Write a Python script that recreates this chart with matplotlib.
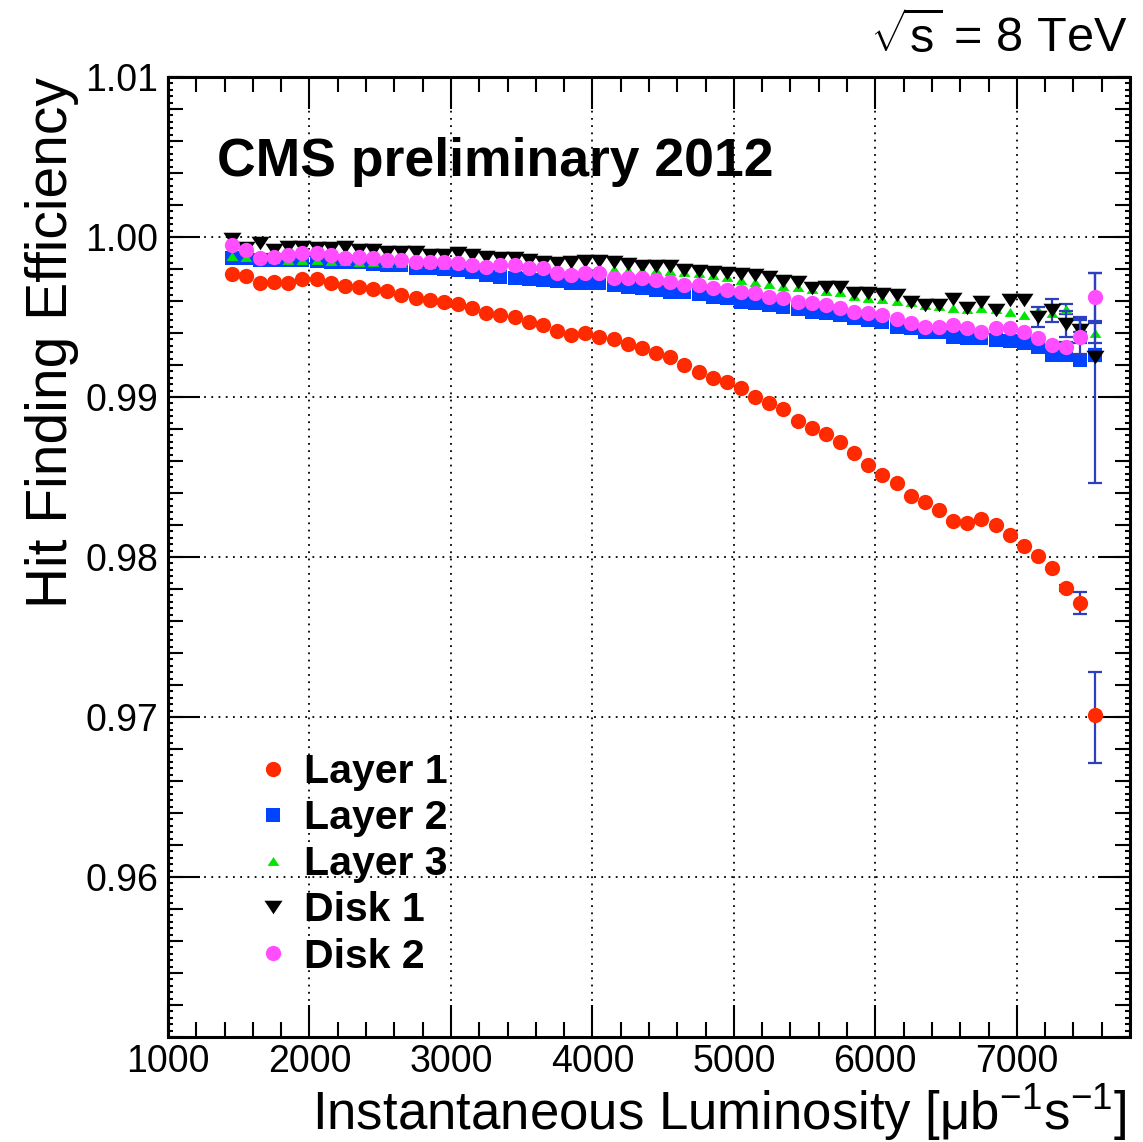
import matplotlib
matplotlib.use("Agg")
import matplotlib.pyplot as plt
from matplotlib.ticker import MultipleLocator, FixedLocator
from matplotlib.lines import Line2D

plt.rcParams['font.family'] = ['Liberation Sans', 'DejaVu Sans']
plt.rcParams['mathtext.fontset'] = 'custom'
plt.rcParams['mathtext.rm'] = 'Liberation Sans'
plt.rcParams['mathtext.it'] = 'Liberation Sans'
plt.rcParams['mathtext.bf'] = 'Liberation Sans:bold'

# instantaneous luminosity bins [ub^-1 s^-1]
lumi = [1450, 1550, 1650, 1750, 1850, 1950, 2050, 2150, 2250, 2350,
        2450, 2550, 2650, 2750, 2850, 2950, 3050, 3150, 3250, 3350,
        3450, 3550, 3650, 3750, 3850, 3950, 4050, 4150, 4250, 4350,
        4450, 4550, 4650, 4750, 4850, 4950, 5050, 5150, 5250, 5350,
        5450, 5550, 5650, 5750, 5850, 5950, 6050, 6150, 6250, 6350,
        6450, 6550, 6650, 6750, 6850, 6950, 7050, 7150, 7250, 7350,
        7450, 7550]

# hit finding efficiency per layer / disk
layer1 = [0.99769, 0.99756, 0.99713, 0.99719, 0.99713, 0.99738, 0.99738, 0.99713, 0.99694, 0.99688,
          0.99675, 0.99663, 0.99638, 0.99619, 0.99606, 0.99594, 0.99581, 0.99556, 0.99525, 0.99513,
          0.99500, 0.99469, 0.99450, 0.99413, 0.99388, 0.99400, 0.99375, 0.99363, 0.99331, 0.99306,
          0.99275, 0.99250, 0.99200, 0.99156, 0.99119, 0.99094, 0.99056, 0.99000, 0.98963, 0.98925,
          0.98850, 0.98806, 0.98769, 0.98719, 0.98650, 0.98575, 0.98513, 0.98463, 0.98381, 0.98344,
          0.98294, 0.98225, 0.98213, 0.98238, 0.98200, 0.98138, 0.98069, 0.98006, 0.97931, 0.97806,
          0.97713, 0.97013]
layer2 = [0.99871, 0.99871, 0.99856, 0.99856, 0.99856, 0.99856, 0.99852, 0.99846, 0.99842, 0.99842,
          0.99829, 0.99825, 0.99825, 0.99808, 0.99804, 0.99800, 0.99794, 0.99783, 0.99763, 0.99752,
          0.99742, 0.99738, 0.99731, 0.99725, 0.99711, 0.99711, 0.99711, 0.99700, 0.99689, 0.99679,
          0.99669, 0.99658, 0.99654, 0.99642, 0.99627, 0.99617, 0.99592, 0.99586, 0.99575, 0.99564,
          0.99550, 0.99529, 0.99523, 0.99513, 0.99492, 0.99481, 0.99471, 0.99439, 0.99429, 0.99408,
          0.99408, 0.99377, 0.99367, 0.99367, 0.99356, 0.99350, 0.99336, 0.99314, 0.99263, 0.99263,
          0.99231, 0.99263]
layer3 = [0.99881, 0.99875, 0.99863, 0.99863, 0.99856, 0.99856, 0.99856, 0.99850, 0.99850, 0.99847,
          0.99844, 0.99841, 0.99838, 0.99834, 0.99831, 0.99828, 0.99825, 0.99822, 0.99819, 0.99816,
          0.99813, 0.99809, 0.99806, 0.99806, 0.99803, 0.99803, 0.99800, 0.99800, 0.99797, 0.99794,
          0.99794, 0.99788, 0.99781, 0.99775, 0.99763, 0.99750, 0.99731, 0.99719, 0.99706, 0.99694,
          0.99688, 0.99675, 0.99663, 0.99656, 0.99631, 0.99619, 0.99613, 0.99600, 0.99594, 0.99575,
          0.99569, 0.99556, 0.99550, 0.99556, 0.99550, 0.99531, 0.99513, 0.99544, 0.99525, 0.99550,
          0.99444, 0.99400]
disk1 = [0.99986, 0.99929, 0.99961, 0.99919, 0.99939, 0.99939, 0.99929, 0.99929, 0.99939, 0.99919,
         0.99919, 0.99908, 0.99908, 0.99908, 0.99888, 0.99888, 0.99898, 0.99891, 0.99877, 0.99867,
         0.99867, 0.99856, 0.99846, 0.99841, 0.99844, 0.99850, 0.99850, 0.99844, 0.99831, 0.99819,
         0.99822, 0.99819, 0.99797, 0.99791, 0.99781, 0.99775, 0.99769, 0.99766, 0.99753, 0.99725,
         0.99722, 0.99681, 0.99688, 0.99688, 0.99650, 0.99650, 0.99644, 0.99638, 0.99594, 0.99573,
         0.99573, 0.99614, 0.99556, 0.99594, 0.99542, 0.99604, 0.99604, 0.99500, 0.99542, 0.99458,
         0.99419, 0.99250]
disk2 = [0.99950, 0.99919, 0.99869, 0.99875, 0.99888, 0.99900, 0.99900, 0.99888, 0.99869, 0.99875,
         0.99869, 0.99856, 0.99856, 0.99844, 0.99844, 0.99844, 0.99838, 0.99825, 0.99813, 0.99825,
         0.99825, 0.99806, 0.99806, 0.99778, 0.99763, 0.99775, 0.99775, 0.99744, 0.99744, 0.99744,
         0.99731, 0.99719, 0.99700, 0.99700, 0.99681, 0.99669, 0.99656, 0.99650, 0.99625, 0.99619,
         0.99594, 0.99588, 0.99575, 0.99556, 0.99531, 0.99525, 0.99513, 0.99491, 0.99461, 0.99439,
         0.99439, 0.99450, 0.99429, 0.99408, 0.99429, 0.99429, 0.99408, 0.99367, 0.99325, 0.99314,
         0.99377, 0.99627]

# asymmetric errors on the last bins (low stats), [down, up]
layer1_err = [[0.00017, 0.00066, 0.00300], [0.00017, 0.00066, 0.00270]]
layer2_err = [[0.00020, 0.00030, 0.00040], [0.00020, 0.00030, 0.00040]]
layer3_err = [[0.00030, 0.00040, 0.00060], [0.00030, 0.00040, 0.00060]]
disk1_err = [[0.00060, 0.00070, 0.00080, 0.00080, 0.00790], [0.00060, 0.00070, 0.00080, 0.00080, 0.00525]]
disk2_err = [[0.00030, 0.00110, 0.00150], [0.00030, 0.00110, 0.00150]]

labels = ['Layer 1', 'Layer 2', 'Layer 3', 'Disk 1', 'Disk 2']
colors = ['#ff2a00', '#0044ff', '#00e600', '#000000', '#ff4dff']

tri_up = [(0, 0.75), (-1, -0.75), (1, -0.75)]
tri_down = [(0, -0.75), (-1, 0.75), (1, 0.75)]
markers = ['o', 's', tri_up, tri_down, 'o']
msizes = [11, 9.5, 8.5, 13, 11]

series = [layer1, layer2, layer3, disk1, disk2]
errors = [layer1_err, layer2_err, layer3_err, disk1_err, disk2_err]
err_color = '#2b3fc0'

fig = plt.figure(figsize=(11.43, 11.42), dpi=100)
ax = fig.add_axes([0.147, 0.0919, 0.8416, 0.8406])

for vals, err, col, mk, ms in zip(series, errors, colors, markers, msizes):
    n = len(err[0])
    ax.errorbar(lumi[-n:], vals[-n:], yerr=err, fmt='none', ecolor=err_color,
                elinewidth=1.6, capsize=5, capthick=1.6)
    ax.plot(lumi, vals, linestyle='none', marker=mk, markersize=ms,
            color=col, markeredgewidth=0)

ax.set_xlim(1000, 7800)
ax.set_ylim(0.95, 1.01)

# ticks, ROOT-like
ax.xaxis.set_major_locator(MultipleLocator(1000))
ax.xaxis.set_minor_locator(MultipleLocator(200))
ax.yaxis.set_major_locator(FixedLocator([0.96, 0.97, 0.98, 0.99, 1.00, 1.01]))
ax.yaxis.set_minor_locator(MultipleLocator(0.0004))
ax.yaxis.set_major_formatter(matplotlib.ticker.FormatStrFormatter('%.2f'))
ax.tick_params(which='both', direction='in', top=True, right=True, width=1.5)
ax.tick_params(which='major', length=23, labelsize=27, pad=7)
ax.tick_params(axis='x', which='major', pad=5)
ax.tick_params(axis='x', which='minor', length=11)
ax.tick_params(axis='y', which='minor', length=3.5)

for side in ('left', 'right'):
    sec = ax.secondary_yaxis(side)
    sec.yaxis.set_major_locator(MultipleLocator(0.002))
    sec.tick_params(direction='in', length=11, width=1.5,
                    labelleft=False, labelright=False)
    sec.spines[side].set_visible(False)

for sp in ax.spines.values():
    sp.set_linewidth(2.2)

ax.grid(True, which='major', color='black', linestyle=(0, (1, 3)), linewidth=1.3)
ax.set_axisbelow(True)

ax.set_ylabel('Hit Finding Efficiency', fontsize=41, loc='top')
ax.yaxis.set_label_coords(-0.093, 1.0)
ax.set_xlabel('Instantaneous Luminosity [μb$^{-1}$s$^{-1}$]', fontsize=38, loc='right')
ax.xaxis.label.set_verticalalignment('baseline')
ax.xaxis.set_label_coords(0.996, -0.0965)

ax.text(0.051, 0.897, 'CMS preliminary 2012', transform=ax.transAxes,
        fontsize=38.5, fontweight='bold', va='baseline', ha='left')
fig.text(0.986, 0.954, r'$\sqrt{\mathrm{s}}$ = 8 TeV', fontsize=35,
         ha='right', va='baseline')

handles = [Line2D([], [], linestyle='none', marker=mk, markersize=ms, color=col,
                  markeredgewidth=0)
           for mk, ms, col in zip(markers, msizes, colors)]
ax.legend(handles, labels, loc='upper left', bbox_to_anchor=(0.092, 0.296),
          frameon=False, prop={'size': 29.5, 'weight': 'bold'},
          handlelength=0.8, handletextpad=0.35, labelspacing=0.2,
          borderpad=0, borderaxespad=0)

fig.savefig('out.png', dpi=100)
